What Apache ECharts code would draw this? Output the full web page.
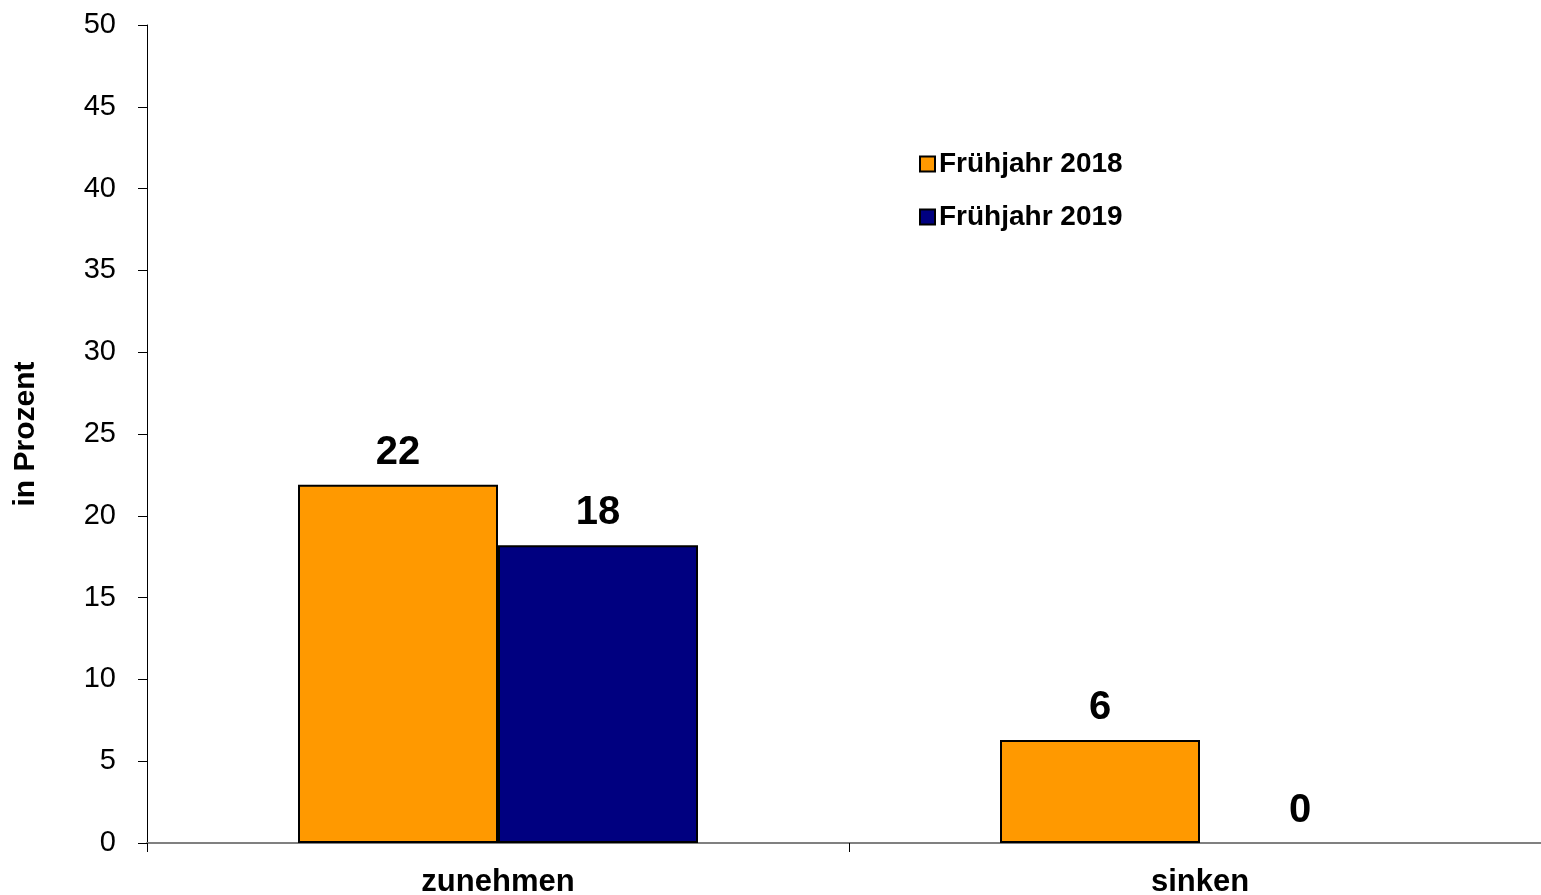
<!DOCTYPE html>
<html>
<head>
<meta charset="utf-8">
<script src="https://cdn.jsdelivr.net/npm/echarts@6/dist/echarts.min.js"></script>
<style>
html,body{margin:0;padding:0;background:#fff;}
#chart{width:1541px;height:895px;}
</style>
</head>
<body>
<div id="chart"></div>
<script>
const categories = ['zunehmen', 'sinken'];
const seriesNames = ['Frühjahr 2018', 'Frühjahr 2019'];
const values2018 = [21.9, 6.3];
const values2019 = [18.2, 0];
const yTicks = [0, 5, 10, 15, 20, 25, 30, 35, 40, 45, 50];

const FONT = '"Liberation Sans", Arial, sans-serif';
const chart = echarts.init(document.getElementById('chart'), null, {renderer: 'canvas'});

const labelCfg = {
  show: true,
  position: 'top',
  distance: 12,
  color: '#000',
  fontFamily: FONT,
  fontWeight: 'bold',
  fontSize: 40,
  formatter: p => String(Math.round(p.value))
};

// zero-height bars get no border (no visible mark in reference)
const toData = arr => arr.map(v => v === 0 ? {value: v, itemStyle: {borderWidth: 0}} : v);

chart.setOption({
  animation: false,
  backgroundColor: '#fff',
  grid: {left: 147, top: 25, right: -10, bottom: 52, containLabel: false, outerBoundsMode: 'none'},
  legend: {
    orient: 'vertical',
    left: 914,
    top: 145,
    itemWidth: 15,
    itemHeight: 15,
    itemGap: 25,
    icon: 'rect',
    data: seriesNames,
    textStyle: {color: '#000', fontFamily: FONT, fontWeight: 'bold', fontSize: 28, padding: [0, 0, 0, -1]}
  },
  xAxis: {
    type: 'category',
    data: categories,
    boundaryGap: true,
    axisLine: {show: true, lineStyle: {color: '#808080', width: 2}},
    axisTick: {show: true, length: 9, lineStyle: {color: '#000', width: 1}},
    axisLabel: {color: '#000', fontFamily: FONT, fontWeight: 'bold', fontSize: 31, margin: 24},
    splitLine: {show: false}
  },
  yAxis: {
    type: 'value',
    min: yTicks[0],
    max: yTicks[yTicks.length - 1],
    interval: 5,
    name: 'in Prozent',
    nameLocation: 'middle',
    nameRotate: 90,
    nameGap: 106,
    nameTextStyle: {color: '#000', fontFamily: FONT, fontWeight: 'bold', fontSize: 30},
    axisLine: {show: true, lineStyle: {color: '#000', width: 1}},
    axisTick: {show: true, length: 9, lineStyle: {color: '#000', width: 1}},
    axisLabel: {color: '#000', fontFamily: FONT, fontSize: 29, margin: 31},
    splitLine: {show: false}
  },
  series: [
    {
      name: seriesNames[0],
      type: 'bar',
      data: toData(values2018),
      barWidth: 200,
      barGap: '0%',
      itemStyle: {color: '#FF9900', borderColor: '#000', borderWidth: 2},
      label: labelCfg
    },
    {
      name: seriesNames[1],
      type: 'bar',
      data: toData(values2019),
      barWidth: 200,
      barGap: '0%',
      itemStyle: {color: '#000080', borderColor: '#000', borderWidth: 2},
      label: labelCfg
    }
  ]
});
</script>
</body>
</html>
